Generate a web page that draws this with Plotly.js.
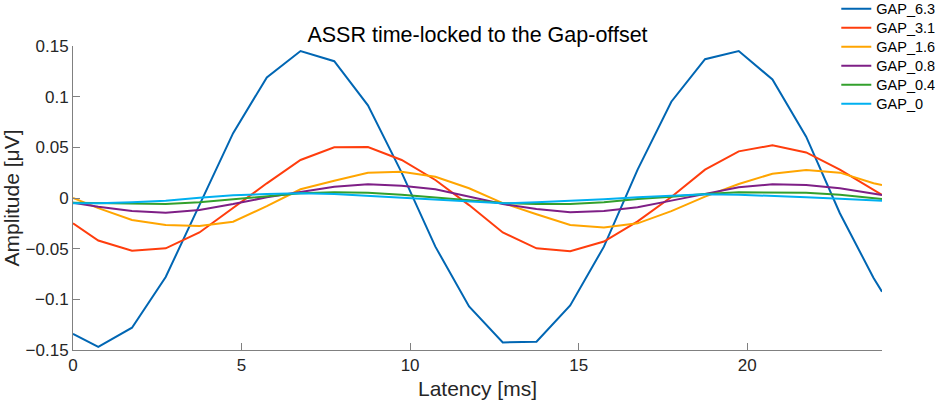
<!DOCTYPE html>
<html>
<head>
<meta charset="utf-8">
<script src="https://cdn.plot.ly/plotly-3.0.1.min.js"></script>
<style>html,body{margin:0;padding:0;background:#fff;}#chart{width:935px;height:403px;}</style>
</head>
<body>
<div id="chart"></div>
<script>
const latency = [0, 0.75, 1.75, 2.75, 3.75, 4.75, 5.75, 6.75, 7.75, 8.75, 9.75, 10.75, 11.75,
  12.75, 13.75, 14.75, 15.75, 16.75, 17.75, 18.75, 19.75, 20.75, 21.75, 22.75, 23.75, 24];

const gap63 = [-0.134, -0.147, -0.128, -0.078, -0.007, 0.064, 0.119, 0.145, 0.135, 0.0915, 0.025, -0.048, -0.107,
  -0.1425, -0.1418, -0.106, -0.048, 0.028, 0.095, 0.137, 0.145, 0.117, 0.0605, -0.015, -0.079, -0.0925];
const gap31 = [-0.025, -0.042, -0.052, -0.0497, -0.034, -0.01, 0.0145, 0.0375, 0.050, 0.0503, 0.0375, 0.0178, -0.007,
  -0.034, -0.0497, -0.0526, -0.043, -0.023, 0.001, 0.028, 0.046, 0.052, 0.045, 0.028, 0.008, 0.003];
const gap16 = [0.0, -0.010, -0.0217, -0.0267, -0.0276, -0.0234, -0.008, 0.0086, 0.017, 0.025, 0.026, 0.021, 0.0096,
  -0.005, -0.016, -0.0267, -0.029, -0.025, -0.013, 0.0013, 0.0138, 0.024, 0.0276, 0.025, 0.0145, 0.0128];
const gap08 = [-0.0046, -0.0086, -0.0128, -0.0145, -0.0118, -0.006, 0.0007, 0.0062, 0.0112, 0.0135, 0.0122, 0.0086, 0.0013,
  -0.006, -0.0109, -0.0141, -0.0128, -0.0092, -0.0026, 0.004, 0.0105, 0.0135, 0.0128, 0.0096, 0.0046, 0.003];
const gap04 = [-0.0046, -0.005, -0.006, -0.006, -0.0043, -0.0013, 0.0023, 0.0046, 0.0056, 0.0053, 0.0033, 0.0007, -0.002,
  -0.005, -0.006, -0.006, -0.0043, -0.001, 0.0013, 0.004, 0.0056, 0.0056, 0.0053, 0.0033, 0.0003, -0.001];
const gap0 = [-0.0053, -0.0053, -0.0043, -0.0026, 0.0003, 0.0026, 0.004, 0.0046, 0.004, 0.002, 0.0, -0.002, -0.0036,
  -0.0053, -0.0043, -0.003, -0.0013, 0.0007, 0.0023, 0.0036, 0.0033, 0.0023, 0.0007, -0.0007, -0.002, -0.0026];

const seriesNames = ['GAP_6.3', 'GAP_3.1', 'GAP_1.6', 'GAP_0.8', 'GAP_0.4', 'GAP_0'];
const seriesValues = [gap63, gap31, gap16, gap08, gap04, gap0];
const seriesColors = ['#0066B3', '#FF3D0D', '#FFA500', '#7E1F86', '#33A02C', '#00B0F0'];

const xTicks = [0, 5, 10, 15, 20];
const yTicks = [-0.15, -0.1, -0.05, 0, 0.05, 0.1, 0.15];
const yTickText = ['\u22120.15', '\u22120.1', '\u22120.05', '0', '0.05', '0.1', '0.15'];

const traces = seriesNames.map((n, i) => ({
  x: latency, y: seriesValues[i], type: 'scatter', mode: 'lines',
  name: '<span style="font-size:14.5px">' + n + '</span>',
  line: {color: seriesColors[i], width: 2}
}));

const font = 'Liberation Sans, Arial, Helvetica, sans-serif';
const layout = {
  width: 935, height: 403,
  margin: {l: 73, r: 53.3, t: 46, b: 53, pad: 0, autoexpand: false},
  paper_bgcolor: '#fff', plot_bgcolor: '#fff',
  font: {family: font, color: '#262626'},
  title: {text: 'ASSR time-locked to the Gap-offset', font: {size: 21.5, color: '#000'},
    x: 0.5, xref: 'paper', xanchor: 'center', y: 0.915, yanchor: 'middle'},
  xaxis: {range: [0, 24], tickvals: xTicks, ticks: 'inside', ticklen: 7, tickcolor: '#808080',
    showline: true, linecolor: '#808080', linewidth: 1, showgrid: false, zeroline: false,
    tickfont: {size: 17, color: '#262626'},
    title: {text: 'Latency [ms]', font: {size: 21, color: '#262626'}, standoff: 6}},
  yaxis: {range: [-0.15, 0.15], tickvals: yTicks, ticktext: yTickText, ticks: 'inside', ticklen: 7, tickcolor: '#808080',
    showline: true, linecolor: '#808080', linewidth: 1, showgrid: false, zeroline: false,
    tickfont: {size: 17, color: '#262626'},
    title: {text: 'Amplitude [\u03bcV]', font: {size: 21, color: '#262626'}, standoff: 5}},
  legend: {x: 0.9435, xanchor: 'left', y: 1.17, yanchor: 'top', bgcolor: 'rgba(0,0,0,0)',
    font: {size: 12, color: '#000'}, tracegroupgap: 0},
  showlegend: true
};

Plotly.newPlot('chart', traces, layout, {displayModeBar: false, staticPlot: true});
</script>
</body>
</html>
